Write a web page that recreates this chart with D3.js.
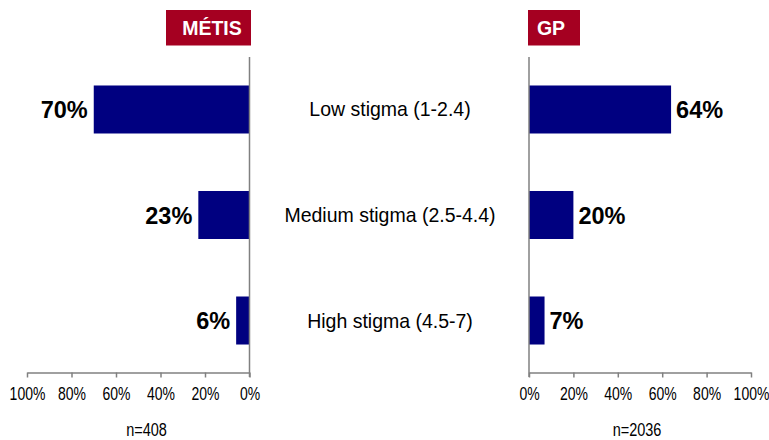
<!DOCTYPE html>
<html>
<head>
<meta charset="utf-8">
<script src="https://cdn.jsdelivr.net/npm/d3@7"></script>
<style>
  html, body { margin: 0; padding: 0; background: #fff; }
  svg { display: block; font-family: "Liberation Sans", Arial, sans-serif; }
</style>
</head>
<body>
<svg id="chart" width="769" height="440"></svg>
<script>
const categories = ["Low stigma (1-2.4)", "Medium stigma (2.5-4.4)", "High stigma (4.5-7)"];
const metisValues = [0.70, 0.23, 0.06];
const gpValues = [0.64, 0.20, 0.07];
const metisLabels = ["70%", "23%", "6%"];
const gpLabels = ["64%", "20%", "7%"];
const tickValues = [0, 0.2, 0.4, 0.6, 0.8, 1.0];
const panelTitles = ["MÉTIS", "GP"];
const sampleSizes = ["n=408", "n=2036"];

const svg = d3.select("#chart");
const navy = "#000080";
const red = "#A50021";
const axisColor = "#808080";

const y = d3.scaleBand().domain(categories).range([57, 373]).paddingInner(0.545).paddingOuter(0.27);
const xL = d3.scaleLinear().domain([0, 1]).range([249.5, 27]);
const xR = d3.scaleLinear().domain([0, 1]).range([529, 751]);

// Bars left
svg.append("g").selectAll("rect").data(metisValues).join("rect")
  .attr("x", d => xL(d)).attr("width", d => xL(0) - xL(d))
  .attr("y", (d, i) => y(categories[i])).attr("height", y.bandwidth())
  .attr("fill", navy);
// Bars right
svg.append("g").selectAll("rect").data(gpValues).join("rect")
  .attr("x", xR(0)).attr("width", d => xR(d) - xR(0))
  .attr("y", (d, i) => y(categories[i])).attr("height", y.bandwidth())
  .attr("fill", navy);

// Value labels
svg.append("g").selectAll("text").data(metisValues).join("text")
  .attr("x", d => xL(d) - 6).attr("y", (d, i) => y(categories[i]) + y.bandwidth() / 2 + 8.5)
  .attr("text-anchor", "end").attr("font-weight", "bold").attr("font-size", 23.5)
  .attr("fill", "#000").text((d, i) => metisLabels[i]);
svg.append("g").selectAll("text").data(gpValues).join("text")
  .attr("x", d => xR(d) + 5).attr("y", (d, i) => y(categories[i]) + y.bandwidth() / 2 + 8.5)
  .attr("text-anchor", "start").attr("font-weight", "bold").attr("font-size", 23.5)
  .attr("fill", "#000").text((d, i) => gpLabels[i]);

// Category labels
svg.append("g").selectAll("text").data(categories).join("text")
  .attr("transform", d => `translate(390,${y(d) + y.bandwidth() / 2 + 7}) scale(1,1.08)`)
  .attr("text-anchor", "middle").attr("font-size", 19.5).attr("fill", "#000")
  .text(d => d);

// Axes
function drawAxis(scale) {
  const g = svg.append("g").attr("transform", "translate(0,372.5)")
    .call(d3.axisBottom(scale).tickValues(tickValues).tickSize(5).tickSizeOuter(0)
      .tickFormat(d3.format(".0%")));
  g.select(".domain").attr("stroke", axisColor).attr("stroke-width", 1.5);
  g.selectAll(".tick line").attr("stroke", axisColor).attr("stroke-width", 1.5);
  g.selectAll(".tick text").attr("font-size", 14).attr("fill", "#000")
    .attr("font-family", "'Liberation Sans', Arial, sans-serif")
    .attr("y", 0).attr("dy", 0)
    .attr("transform", "translate(0,27.5) scale(1,1.3)");
  svg.append("line").attr("x1", scale(0)).attr("x2", scale(0))
    .attr("y1", 57).attr("y2", 377).attr("stroke", axisColor).attr("stroke-width", 1.5);
}
drawAxis(xL);
drawAxis(xR);

// Sample size labels
const nPos = [146.5, 637];
svg.append("g").selectAll("text").data(sampleSizes).join("text")
  .attr("transform", (d, i) => `translate(${nPos[i]},436) scale(1,1.3)`)
  .attr("text-anchor", "middle").attr("font-size", 14.5).attr("fill", "#000")
  .text(d => d);

// Header boxes
const boxes = [{x: 166, w: 85, tx: 212}, {x: 528, w: 52, tx: 551}];
boxes.forEach((b, i) => {
  svg.append("rect").attr("x", b.x).attr("y", 10).attr("width", b.w).attr("height", 35.5).attr("fill", red);
  svg.append("text").attr("x", b.tx).attr("y", 35).attr("text-anchor", "middle")
    .attr("font-weight", "bold").attr("font-size", 19.5).attr("fill", "#fff")
    .text(panelTitles[i]);
});
</script>
</body>
</html>
